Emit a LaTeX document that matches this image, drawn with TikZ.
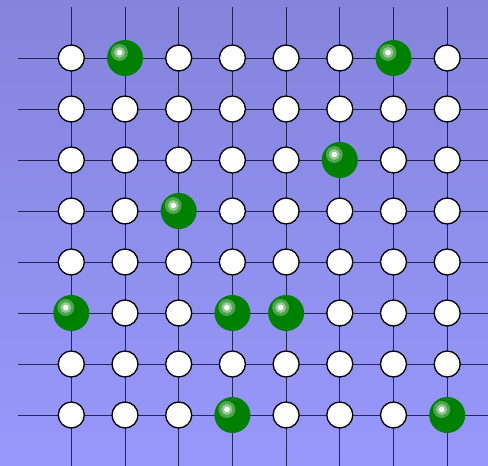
\documentclass[tikz,border=0pt]{standalone}
\begin{document}
\begin{tikzpicture}[x=1pt,y=-1pt,
  gridline/.style={draw=black!85!blue, line width=0.8pt, opacity=0.75},
  hole/.style={circle, draw=black, line width=1.3pt, fill=white, minimum size=26pt, inner sep=0pt},
  stone/.style={circle, fill={rgb,255:red,0;green,128;blue,0}, minimum size=36pt, inner sep=0pt}]
\definecolor{bgtop}{RGB}{132,132,220}
\definecolor{bgbot}{RGB}{152,152,252}
\shade[top color=bgtop, bottom color=bgbot] (0,0) rectangle (488,466);
\useasboundingbox (0,0) rectangle (488,466);
\def\xs{53.7}\def\ys{51}
% grid lines
\foreach \i in {0,...,7}{
  \draw[gridline] ({71.3+\i*\xs},7) -- ({71.3+\i*\xs},466);
  \draw[gridline] (18,{58+\i*\ys}) -- (488,{58+\i*\ys});
}
% holes
\foreach \r in {0,...,7}{
  \foreach \c in {0,...,7}{
    \node[hole] (h\r\c) at ({71.3+\c*\xs},{58+\r*\ys}) {};
  }
}
% stones
\foreach \r/\c in {0/1,0/6,2/5,3/2,5/0,5/3,5/4,7/3,7/7}{
  \node[stone] (s\r\c) at (h\r\c) {};
  \fill[white, opacity=0.3] ([shift={(-5.5,-5.5)}]h\r\c) circle (8.5);
  \fill[white, opacity=0.4] ([shift={(-5.5,-5.5)}]h\r\c) circle (5.5);
  \fill[white] ([shift={(-5.5,-5.5)}]h\r\c) circle (2.8);
}
\end{tikzpicture}
\end{document}
